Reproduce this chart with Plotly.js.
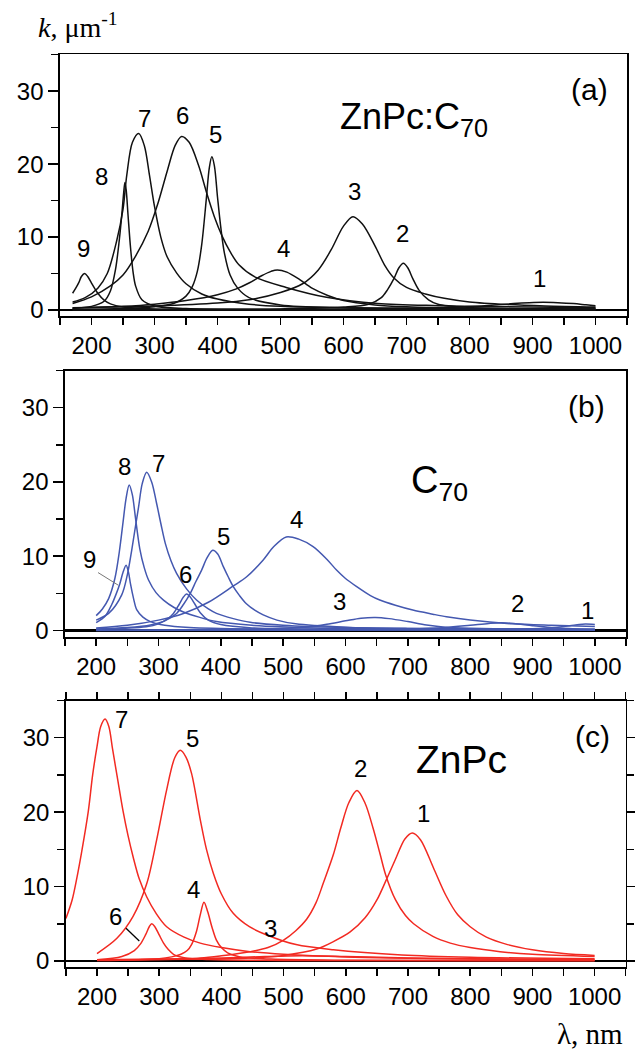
<!DOCTYPE html>
<html>
<head>
<meta charset="utf-8">
<script src="https://cdn.plot.ly/plotly-3.0.1.min.js"></script>
<style>
html,body{margin:0;padding:0;background:#fff;}
#chart{width:635px;height:1049px;}
</style>
</head>
<body>
<div id="chart"></div>
<script>
// ---------- DATA (wavelength nm, k in µm^-1) ----------
// Panel (a) ZnPc:C70 – oscillators 1..9
const a1 = [[170,0.02],[400,0.05],[600,0.12],[700,0.22],[760,0.35],[800,0.48],[840,0.68],[870,0.88],[895,1.0],[917,1.05],[940,1.0],[965,0.88],[985,0.72],[1000,0.6]];
const a2 = [[170,0.05],[400,0.1],[500,0.15],[600,0.4],[640,0.8],[660,1.7],[670,2.8],[680,4.3],[688,5.8],[695,6.4],[702,5.8],[710,4.3],[720,2.7],[735,1.4],[750,0.8],[800,0.35],[900,0.15],[1000,0.1]];
const a3 = [[170,0.3],[300,0.55],[400,0.95],[450,1.4],[500,2.4],[535,3.6],[560,5.5],[580,8.2],[600,11.5],[615,12.8],[630,11.8],[650,8.8],[665,6.2],[680,4.4],[700,3.1],[730,2.2],[760,1.6],[800,1.1],[860,0.75],[920,0.55],[1000,0.4]];
const a4 = [[170,0.25],[250,0.5],[300,0.8],[350,1.3],[400,2.1],[430,2.9],[450,3.7],[470,4.7],[485,5.3],[495,5.5],[510,5.2],[530,4.2],[550,3.0],[575,2.0],[600,1.3],[650,0.7],[700,0.45],[800,0.25],[1000,0.12]];
const a5 = [[170,0.1],[250,0.2],[300,0.45],[330,0.9],[350,1.9],[360,3.2],[368,5.3],[375,9],[382,15],[387,19.5],[391,21],[395,19.8],[400,15.5],[405,11.5],[411,7.8],[420,4.8],[432,3.0],[450,1.7],[500,0.7],[600,0.3],[800,0.15],[1000,0.1]];
const a6 = [[170,0.9],[200,1.8],[230,3.3],[250,4.8],[270,7.4],[290,10.8],[305,14.5],[320,19],[333,22.6],[343,23.8],[355,23],[370,19.8],[383,16],[395,12.8],[407,10.2],[420,8.0],[434,6.2],[460,4.5],[509,3.1],[573,1.75],[654,0.9],[750,0.6],[850,0.45],[1000,0.3]];
const a7 = [[170,1.1],[190,1.7],[210,3.0],[225,5.0],[240,9.5],[250,13.8],[256,18.5],[265,23],[275,24.2],[284,22.5],[292,18.5],[300,14.2],[310,10],[320,7.3],[335,5.1],[350,3.6],[375,2.2],[400,1.5],[450,0.8],[500,0.5],[600,0.3],[800,0.2],[1000,0.15]];
const a8 = [[170,0.25],[200,0.5],[220,1.2],[230,2.6],[238,5.5],[244,9.5],[248,13],[251,16],[253,17.5],[255,16.5],[258,13],[262,8.5],[266,5.2],[270,3.3],[280,1.4],[300,0.55],[350,0.2],[500,0.06],[1000,0.02]];
const a9 = [[170,2.3],[175,3.0],[180,3.8],[184,4.6],[189,5.0],[194,4.6],[200,3.7],[210,2.3],[220,1.35],[230,0.85],[250,0.42],[300,0.13],[400,0.04],[600,0.01],[1000,0.0]];

// Panel (b) C70 – oscillators 1..9
const b1 = [[200,0.01],[800,0.08],[900,0.25],[940,0.45],[960,0.65],[975,0.82],[985,0.88],[1000,0.82]];
const b2 = [[200,0.02],[600,0.08],[700,0.2],[760,0.4],[800,0.7],[830,0.95],[850,1.05],[870,0.95],[900,0.65],[930,0.4],[970,0.22],[1000,0.15]];
const b3 = [[200,0.05],[400,0.15],[500,0.3],[540,0.5],[570,0.85],[600,1.3],[625,1.65],[648,1.75],[670,1.6],[700,1.2],[730,0.75],[760,0.45],[800,0.3],[900,0.15],[1000,0.1]];
const b4 = [[200,0.35],[250,0.7],[300,1.4],[340,2.3],[380,3.8],[420,6.0],[441,7.2],[468,9.5],[485,11.3],[505,12.6],[525,12.3],[548,11.3],[570,9.6],[586,8.1],[600,7.0],[618,5.9],[640,4.7],[655,4.1],[680,3.4],[708,2.75],[740,2.2],[762,1.85],[800,1.4],[868,0.9],[930,0.7],[1000,0.55]];
const b5 = [[200,0.2],[250,0.4],[287,0.75],[310,1.3],[329,2.3],[340,3.5],[351,5.0],[360,6.6],[369,8.1],[378,9.8],[387,10.8],[395,10.3],[404,8.6],[412,7.2],[420,5.9],[430,4.7],[441,3.6],[455,2.7],[468,2.1],[490,1.4],[520,0.9],[600,0.45],[700,0.25],[800,0.18],[1000,0.1]];
const b6 = [[200,0.15],[280,0.5],[300,0.9],[315,1.6],[324,2.3],[333,3.5],[340,4.5],[345,4.9],[350,4.6],[358,3.6],[367,2.4],[380,1.4],[400,0.8],[450,0.35],[600,0.12],[1000,0.05]];
const b7 = [[200,1.4],[220,2.3],[241,4.8],[250,7.5],[257,10.8],[263,14],[268,16.6],[274,19.8],[281,21.3],[289,20],[297,17.1],[304,14.3],[311,11.7],[320,9.4],[329,7.7],[345,5.6],[361,4.1],[380,2.9],[393,2.3],[420,1.6],[447,1.1],[500,0.7],[600,0.4],[800,0.25],[1000,0.2]];
const b8 = [[200,2.0],[210,2.9],[220,4.3],[230,7.0],[237,10.5],[243,14.5],[248,17.8],[253,19.6],[258,18.3],[263,15.2],[270,11.0],[277,8.5],[284,6.8],[296,5.1],[308,4.1],[325,3.1],[340,2.5],[365,1.8],[393,1.2],[450,0.7],[550,0.35],[700,0.2],[1000,0.1]];
const b9 = [[200,1.05],[215,2.0],[225,3.5],[232,4.9],[238,6.3],[243,7.8],[248,8.8],[252,7.8],[255,6.3],[260,4.3],[265,2.8],[275,1.8],[287,1.2],[310,0.7],[350,0.4],[450,0.2],[1000,0.05]];

// Panel (c) ZnPc – oscillators 1..7
const c1 = [[200,0.1],[300,0.2],[400,0.3],[446,0.4],[500,0.75],[553,1.6],[580,2.6],[607,3.9],[631,5.8],[650,8.2],[664,10.7],[680,13.7],[695,16.4],[707,17.2],[720,16.3],[741,12.5],[761,8.8],[780,6.2],[800,4.6],[826,3.2],[860,2.2],[900,1.5],[950,1.0],[1000,0.75]];
const c2 = [[200,0.15],[300,0.25],[366,0.4],[400,0.7],[446,1.25],[475,1.8],[500,2.8],[520,4.1],[537,5.6],[552,7.8],[564,10.5],[580,14.3],[592,17.9],[605,21.3],[618,22.9],[631,21.2],[644,17.8],[655,14.4],[664,11.6],[680,8.2],[696,6.1],[709,5.0],[740,3.3],[768,2.4],[800,1.8],[848,1.25],[900,0.9],[1000,0.6]];
const c3 = [[200,0.1],[300,0.2],[400,0.4],[470,0.6],[530,0.7],[600,0.6],[700,0.4],[800,0.25],[1000,0.1]];
const c4 = [[200,0.05],[300,0.3],[320,0.55],[335,0.9],[345,1.4],[352,2.2],[360,4.0],[366,6.2],[372,7.9],[378,6.6],[385,4.5],[392,2.8],[400,1.8],[410,1.1],[430,0.55],[480,0.25],[600,0.1],[1000,0.05]];
const c5 = [[200,1.0],[232,3.05],[258,6.0],[280,10.4],[296,16.3],[312,23],[325,27.3],[334,28.3],[343,27.4],[352,25.2],[366,19],[376,15],[387,11.8],[400,9.0],[419,6.4],[445,4.6],[473,3.5],[520,2.2],[580,1.5],[690,0.8],[800,0.5],[1000,0.3]];
const c6 = [[200,0.15],[240,0.6],[260,1.4],[270,2.3],[278,3.5],[284,4.6],[288,5.0],[293,4.6],[300,3.5],[307,2.4],[315,1.5],[323,0.9],[340,0.45],[380,0.2],[500,0.08],[1000,0.03]];
const c7 = [[150,5.7],[160,8.2],[167,10.9],[175,14.5],[186,20.1],[193,25],[200,28.8],[206,31.5],[213,32.5],[219,31.5],[225,28.5],[233,24.5],[242,20.1],[250,16.8],[258,14.0],[268,11.0],[280,8.6],[295,6.4],[312,4.6],[340,3.2],[366,2.4],[400,1.8],[446,1.25],[500,0.9],[600,0.55],[800,0.3],[1000,0.2]];

// Curve number labels: [label, wavelength, k]
const labelsA = [['9',187,8.5],['8',216,18.3],['7',284,26.3],['6',344,26.7],['5',397,24.0],['4',504,8.5],['3',617,16.2],['2',694,10.5],['1',911,4.35]];
const labelsB = [['8',245,22.05],['7',300,22.5],['9',189,9.5],['6',343,7.5],['5',405,12.6],['4',522,14.9],['3',591,3.9],['2',876,3.66],['1',989,2.76]];
const labelsC = [['7',240,32.4],['5',353,29.9],['2',623,25.9],['1',725,19.8],['4',355,9.54],['6',230.5,5.95],['3',479,4.39]];

const curvesA = [a1,a2,a3,a4,a5,a6,a7,a8,a9];
const curvesB = [b1,b2,b3,b4,b5,b6,b7,b8,b9];
const curvesC = [c1,c2,c3,c4,c5,c6,c7];

// ---------- STYLE ----------
const SANS = 'Liberation Sans, Arial, sans-serif';
const SERIF = 'Liberation Serif, Times New Roman, serif';
const colA = '#111111', colB = '#4458b0', colC = '#f22a22';

const traces = [];
function addCurves(curves, color, xa, ya){
  curves.forEach(c => traces.push({
    x: c.map(p=>p[0]), y: c.map(p=>p[1]), xaxis: xa, yaxis: ya,
    type:'scatter', mode:'lines', line:{color:color, width:1.5, shape:'spline', smoothing:0.9},
    hoverinfo:'skip', showlegend:false
  }));
}
addCurves(curvesA, colA, 'x', 'y');
addCurves(curvesB, colB, 'x2', 'y2');
addCurves(curvesC, colC, 'x3', 'y3');

const TICKFONT = {family:SANS, size:24, color:'#000'};
function xax(domain, anchor, mirror){
  return {domain:domain, anchor:anchor, range:[150,1050], showline:true, linecolor:'#000', linewidth:1.7,
    mirror:mirror, ticks:'outside', ticklen:7, tickwidth:1.5, tickcolor:'#000', tick0:0, dtick:100,
    minor:{dtick:50, ticks:'outside', ticklen:7, tickwidth:1.5, tickcolor:'#000'},
    showgrid:false, zeroline:false, tickfont:TICKFONT, fixedrange:true};
}
function yax(domain, anchor, range, mirror){
  return {domain:domain, anchor:anchor, range:range, showline:true, linecolor:'#000', linewidth:1.7,
    mirror:mirror, ticks:'outside', ticklen:10, tickwidth:1.5, tickcolor:'#000', tick0:0, dtick:10,
    minor:{dtick:5, ticks:'outside', ticklen:7, tickwidth:1.5, tickcolor:'#000'},
    showgrid:false, zeroline:true, zerolinecolor:'#000', zerolinewidth:2.2,
    tickfont:TICKFONT, fixedrange:true};
}

const annotations = [];
function addLabels(list, xr, yr){
  list.forEach(l => annotations.push({x:l[1], y:l[2], xref:xr, yref:yr, text:l[0], showarrow:false,
    font:{family:SANS, size:24, color:'#000'}, xanchor:'center', yanchor:'middle'}));
}
addLabels(labelsA,'x','y'); addLabels(labelsB,'x2','y2'); addLabels(labelsC,'x3','y3');

// panel tags and titles
const TAG = {family:SANS,size:30,color:'#000'};
annotations.push({x:990, y:30.3, xref:'x', yref:'y', text:'(a)', showarrow:false, font:TAG});
annotations.push({x:987, y:30.2, xref:'x2', yref:'y2', text:'(b)', showarrow:false, font:TAG});
annotations.push({x:996, y:30.2, xref:'x3', yref:'y3', text:'(c)', showarrow:false, font:TAG});
annotations.push({x:591, y:26.2, xref:'x', yref:'y', text:'ZnPc:C<sub>70</sub>', showarrow:false, xanchor:'left', yanchor:'middle', font:{family:SANS,size:36,color:'#000'}});
annotations.push({x:702, y:19.8, xref:'x2', yref:'y2', text:'C<sub>70</sub>', showarrow:false, xanchor:'left', yanchor:'middle', font:{family:SANS,size:38,color:'#000'}});
annotations.push({x:710, y:27.1, xref:'x3', yref:'y3', text:'ZnPc', showarrow:false, xanchor:'left', yanchor:'middle', font:{family:SANS,size:39,color:'#000'}});
// axis titles
annotations.push({x:36/635, y:1-26/1049, xref:'paper', yref:'paper', text:'<i>k</i>, μm<sup>-1</sup>', showarrow:false, xanchor:'left', yanchor:'middle', font:{family:SERIF,size:28,color:'#000'}});
annotations.push({x:625/635, y:1-1034/1049, xref:'paper', yref:'paper', text:'λ, nm', showarrow:false, xanchor:'right', yanchor:'middle', font:{family:SERIF,size:29,color:'#000'}});

// leader lines for labels 9 (b) and 6 (c)
const shapes = [
  {type:'line', xref:'x2', yref:'y2', x0:203, y0:7.8, x1:235.5, y1:6.1, line:{color:'#777', width:1}},
  {type:'line', xref:'x3', yref:'y3', x0:246.6, y0:4.39, x1:268, y1:2.69, line:{color:'#000', width:1.3}}
];

const W=635, H=1049;
const layout = {
  width:W, height:H, margin:{l:0,r:0,t:0,b:0}, paper_bgcolor:'#fff', plot_bgcolor:'#fff', showlegend:false,
  xaxis: xax([60/W, 627/W], 'y', true),
  yaxis: yax([1-316/H, 1-54.3/H], 'x', [-0.82, 35.06], true),
  xaxis2: xax([65/W, 626/W], 'y2', true),
  yaxis2: yax([1-637.2/H, 1-370.5/H], 'x2', [-0.9, 35], true),
  xaxis3: xax([65.9/W, 625.7/W], 'y3', 'ticks'),
  yaxis3: yax([1-967.3/H, 1-700.5/H], 'x3', [-0.85, 35], 'ticks'),
  annotations: annotations, shapes: shapes
};
Plotly.newPlot('chart', traces, layout, {staticPlot:true, displayModeBar:false});
</script>
</body>
</html>
